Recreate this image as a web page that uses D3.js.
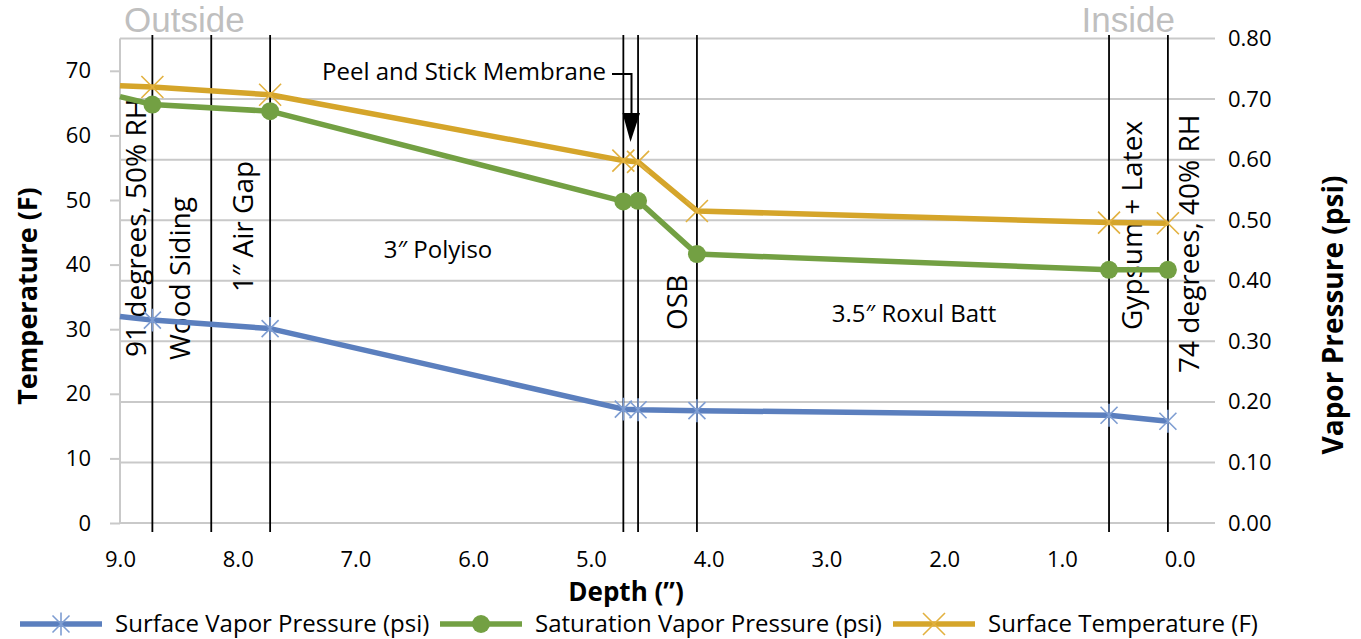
<!DOCTYPE html>
<html>
<head>
<meta charset="utf-8">
<script src="https://cdn.jsdelivr.net/npm/d3@7"></script>
<style>
  body { margin: 0; background: #fff; }
  svg { display: block; }
  text { font-family: "Open Sans", "Noto Sans", sans-serif; fill: #000; }
</style>
</head>
<body>
<svg id="chart" width="1361" height="639"></svg>
<script>
// Depth through the wall assembly (inches, measured from the interior side)
const depth = [9.0, 8.725, 7.725, 4.725, 4.6, 4.1, 0.6, 0.1];
const surfaceVaporPressure = [0.341, 0.335, 0.321, 0.188, 0.187, 0.1855, 0.178, 0.168];
const saturationVaporPressure = [0.704, 0.691, 0.680, 0.531, 0.532, 0.444, 0.418, 0.418];
const surfaceTemperature = [67.7, 67.5, 66.3, 56.1, 55.9, 48.3, 46.5, 46.4];

// Layer interfaces drawn as vertical rules
const layerBoundaries = [8.725, 8.225, 7.725, 4.725, 4.6, 4.1, 0.6, 0.1];

const depthTicks = [9, 8, 7, 6, 5, 4, 3, 2, 1, 0];
const temperatureTicks = [0, 10, 20, 30, 40, 50, 60, 70];
const pressureTicks = [0, 0.1, 0.2, 0.3, 0.4, 0.5, 0.6, 0.7, 0.8];

const seriesNames = ["Surface Vapor Pressure (psi)", "Saturation Vapor Pressure (psi)", "Surface Temperature (F)"];

const svg = d3.select("#chart");
const plot = { left: 120, right: 1215, top: 38.5, bottom: 523 };

const x = d3.scaleLinear().domain([9, -0.3]).range([plot.left, plot.right]);
const yT = d3.scaleLinear().domain([0, 75]).range([plot.bottom, plot.top]);
const yP = d3.scaleLinear().domain([0, 0.8]).range([plot.bottom, plot.top]);

const colors = {
  blue: "#5b7fbe", blueMark: "#7e9dd2",
  green: "#73a043", greenMark: "#73a043",
  gold: "#d5a52a", goldMark: "#e2b13f"
};

// Horizontal gridlines (vapor-pressure axis)
svg.append("g")
  .selectAll("line")
  .data(pressureTicks)
  .join("line")
  .attr("x1", plot.left).attr("x2", plot.right)
  .attr("y1", d => yP(d)).attr("y2", d => yP(d))
  .attr("stroke", "#c9c9c9").attr("stroke-width", 2);

// Left temperature axis
const leftAxis = svg.append("g")
  .attr("transform", `translate(${plot.left},0)`)
  .call(d3.axisLeft(yT).tickValues(temperatureTicks).tickSize(10).tickPadding(19).tickFormat(d3.format("d")));
leftAxis.select(".domain").attr("stroke", "#c9c9c9").attr("stroke-width", 2)
  .attr("d", `M0,${plot.top}V${plot.bottom}`);
leftAxis.selectAll(".tick line").attr("stroke", "#c9c9c9").attr("stroke-width", 2);
leftAxis.selectAll(".tick text").style("font-size", "22px").attr("fill", "#000");

// Right vapor-pressure axis (labels only)
const rightAxis = svg.append("g")
  .attr("transform", `translate(${plot.right},0)`)
  .call(d3.axisRight(yP).tickValues(pressureTicks).tickSize(0).tickPadding(13).tickFormat(d3.format(".2f")));
rightAxis.select(".domain").remove();
rightAxis.selectAll(".tick text").style("font-size", "22px").attr("fill", "#000");

// Bottom depth axis (labels only, reversed)
const bottomAxis = svg.append("g")
  .attr("transform", `translate(0,${plot.bottom})`)
  .call(d3.axisBottom(x).tickValues(depthTicks).tickSize(0).tickPadding(28).tickFormat(d3.format(".1f")));
bottomAxis.select(".domain").remove();
bottomAxis.selectAll(".tick text").style("font-size", "22px").attr("fill", "#000");

// Layer interface rules
svg.append("g")
  .selectAll("line")
  .data(layerBoundaries)
  .join("line")
  .attr("x1", d => x(d)).attr("x2", d => x(d))
  .attr("y1", 35).attr("y2", 532)
  .attr("stroke", "#000").attr("stroke-width", 1.8);

// Layer labels
const vLabel = (txt, xc, yBottom) =>
  svg.append("text")
    .attr("transform", `translate(${xc},${yBottom}) rotate(-90)`)
    .attr("dy", "0.35em")
    .style("font-size", "28px")
    .text(txt);

vLabel("91 degrees, 50% RH", 136, 357);
vLabel("Wood Siding", x((8.725 + 8.225) / 2) - 2, 360);
vLabel("1\u2033 Air Gap", x((8.225 + 7.725) / 2) + 3, 292);
vLabel("OSB", 677, 330);
vLabel("Gypsum + Latex", 1132, 330);
vLabel("74 degrees, 40% RH", 1189, 373);

svg.append("text").attr("x", 438).attr("y", 258).attr("text-anchor", "middle")
  .style("font-size", "24px").text("3\u2033 Polyiso");
svg.append("text").attr("x", 914).attr("y", 322).attr("text-anchor", "middle")
  .style("font-size", "24px").text("3.5\u2033 Roxul Batt");

// Membrane callout with elbow arrow
svg.append("text").attr("x", 322).attr("y", 80)
  .style("font-size", "24px").text("Peel and Stick Membrane");
svg.append("path")
  .attr("d", "M612,74H631.5V114")
  .attr("fill", "none").attr("stroke", "#000").attr("stroke-width", 2);
svg.append("path")
  .attr("d", "M622.5,113L640,113L630.5,142Z")
  .attr("fill", "#000");

// Outside / Inside headers
svg.append("text").attr("x", 124).attr("y", 32)
  .style("font-size", "35px").style("font-family", "'Liberation Sans', Arial, sans-serif")
  .style("fill", "#bfbfbf").text("Outside");
svg.append("text").attr("x", 1175).attr("y", 32).attr("text-anchor", "end")
  .style("font-size", "35px").style("font-family", "'Liberation Sans', Arial, sans-serif")
  .style("fill", "#bfbfbf").text("Inside");

// Marker shapes
function drawStar(g, cx, cy, r, color) {
  const p = `M${cx - r},${cy - r}L${cx + r},${cy + r}M${cx - r},${cy + r}L${cx + r},${cy - r}M${cx},${cy - r * 1.35}V${cy + r * 1.35}`;
  g.append("path").attr("d", p).attr("stroke", color).attr("stroke-width", 1.6).attr("fill", "none");
}
function drawX(g, cx, cy, r, color) {
  const p = `M${cx - r},${cy - r}L${cx + r},${cy + r}M${cx - r},${cy + r}L${cx + r},${cy - r}`;
  g.append("path").attr("d", p).attr("stroke", color).attr("stroke-width", 1.6).attr("fill", "none");
}
function drawDot(g, cx, cy, r, color) {
  g.append("circle").attr("cx", cx).attr("cy", cy).attr("r", r).attr("fill", color);
}

const series = [
  { name: seriesNames[0], values: surfaceVaporPressure, y: yP, color: colors.blue, mark: colors.blueMark, marker: drawStar, size: 8.5 },
  { name: seriesNames[1], values: saturationVaporPressure, y: yP, color: colors.green, mark: colors.greenMark, marker: drawDot, size: 9 },
  { name: seriesNames[2], values: surfaceTemperature, y: yT, color: colors.gold, mark: colors.goldMark, marker: drawX, size: 11 }
];

const seriesG = svg.append("g");
series.forEach(s => {
  const pts = depth.map((d, i) => [d, s.values[i]]);
  seriesG.append("path")
    .datum(pts)
    .attr("d", d3.line().x(p => x(p[0])).y(p => s.y(p[1])))
    .attr("fill", "none").attr("stroke", s.color).attr("stroke-width", 5.5)
    .attr("stroke-linejoin", "round");
});
series.forEach(s => {
  const mg = seriesG.append("g");
  depth.forEach((d, i) => {
    if (d < 9) s.marker(mg, x(d), s.y(s.values[i]), s.size, s.mark);
  });
});

// Axis titles
svg.append("text")
  .attr("transform", `translate(28,296) rotate(-90)`)
  .attr("text-anchor", "middle").attr("dy", "0.35em")
  .style("font-size", "27px").style("font-weight", "bold").text("Temperature (F)");
svg.append("text")
  .attr("transform", `translate(1333,315) rotate(-90)`)
  .attr("text-anchor", "middle").attr("dy", "0.35em")
  .style("font-size", "28px").style("font-weight", "bold").text("Vapor Pressure (psi)");
svg.append("text")
  .attr("x", 626).attr("y", 601).attr("text-anchor", "middle")
  .style("font-size", "26px").style("font-weight", "bold").text("Depth (\u201D)");

// Legend
const legendX = [20, 440, 893];
const legend = svg.append("g");
series.forEach((s, i) => {
  const lx = legendX[i], ly = 624;
  legend.append("line").attr("x1", lx).attr("x2", lx + 82).attr("y1", ly).attr("y2", ly)
    .attr("stroke", s.color).attr("stroke-width", 5.5);
  s.marker(legend, lx + 41, ly, s.size, s.mark);
  legend.append("text").attr("x", lx + 95).attr("y", ly).attr("dy", "0.35em")
    .style("font-size", "24px").text(s.name);
});
</script>
</body>
</html>
